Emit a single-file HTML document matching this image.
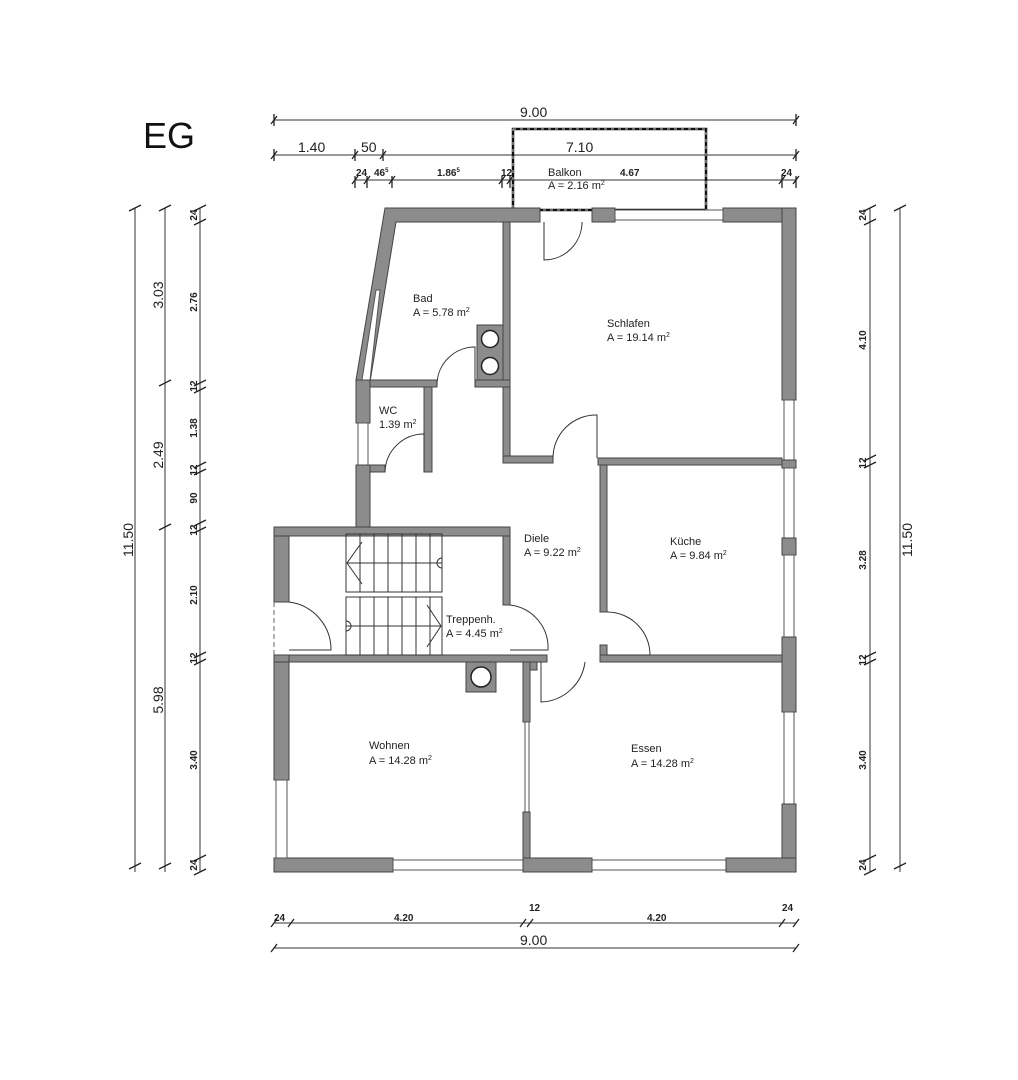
<!DOCTYPE html>
<html><head><meta charset="utf-8"><style>
html,body{margin:0;padding:0;background:#fff;}
svg{display:block;font-family:"Liberation Sans",sans-serif;}
.w{fill:#8c8c8c;stroke:#444;stroke-width:1}
.win{fill:#fff;stroke:#555;stroke-width:1}
.d{stroke:#333;stroke-width:1;fill:none}
.t{font-size:11px;fill:#222}
.dm{font-size:10px;font-weight:bold;fill:#222}
.big{font-size:14px;fill:#222}
</style></head><body>
<svg width="1018" height="1080" viewBox="0 0 1018 1080" xmlns="http://www.w3.org/2000/svg">
<text x="143" y="148" font-size="36" fill="#111">EG</text>

<!-- top dimensions -->
<g class="d">
<line x1="274" y1="120" x2="796" y2="120"/>
<line x1="274" y1="155" x2="796" y2="155"/>
<line x1="355" y1="180" x2="796" y2="180"/>
</g>
<g stroke="#222" stroke-width="1.3">
<path d="M271,124 l6,-8 M274,114v12 M793,124 l6,-8 M796,114v12"/>
<path d="M271,159 l6,-8 M274,149v12 M352,159 l6,-8 M355,149v12 M380,159 l6,-8 M383,149v12 M793,159 l6,-8 M796,149v12"/>
<path d="M352,184l6,-8 M355,176v12 M364,184l6,-8 M367,176v12 M389,184l6,-8 M392,176v12 M499,184l6,-8 M502,176v12 M507,184l6,-8 M510,176v12 M779,184l6,-8 M782,176v12 M793,184l6,-8 M796,176v12"/>
</g>
<text class="big" x="520" y="117">9.00</text>
<text class="big" x="298" y="152">1.40</text>
<text class="big" x="361" y="152">50</text>
<text class="big" x="566" y="152">7.10</text>
<text class="dm" x="356" y="176">24</text>
<text class="dm" x="374" y="176">46<tspan font-size="6" dy="-4">5</tspan></text>
<text class="dm" x="437" y="176">1.86<tspan font-size="6" dy="-4">5</tspan></text>
<text class="dm" x="501" y="176">12</text>
<text class="dm" x="620" y="176">4.67</text>
<text class="dm" x="781" y="176">24</text>
<text class="t" x="548" y="176">Balkon</text>
<text class="t" x="548" y="189">A =  2.16 m<tspan font-size="7" dy="-4">2</tspan></text>
<rect x="513" y="129" width="193" height="81" fill="none" stroke="#111" stroke-width="2.5"/>
<rect x="513" y="129" width="193" height="81" fill="none" stroke="#fff" stroke-width="0.8" stroke-dasharray="3 4"/>

<!-- exterior walls -->
<polygon class="w" points="385,208 540,208 540,222 396,222 370,382 356,380"/>
<rect class="w" x="592" y="208" width="23" height="14"/>
<rect class="w" x="723" y="208" width="73" height="14"/>
<rect class="win" x="615" y="210" width="108" height="10"/>
<rect class="w" x="782" y="208" width="14" height="192"/>
<rect class="win" x="784" y="400" width="10" height="60"/>
<rect class="w" x="782" y="460" width="14" height="8"/>
<rect class="win" x="784" y="468" width="10" height="70"/>
<rect class="w" x="782" y="538" width="14" height="17"/>
<rect class="win" x="784" y="555" width="10" height="82"/>
<rect class="w" x="782" y="637" width="14" height="75"/>
<rect class="win" x="784" y="712" width="10" height="92"/>
<rect class="w" x="782" y="804" width="14" height="68"/>
<rect class="w" x="274" y="858" width="119" height="14"/>
<rect class="win" x="393" y="860" width="130" height="10"/>
<rect class="w" x="523" y="858" width="69" height="14"/>
<rect class="win" x="592" y="860" width="134" height="10"/>
<rect class="w" x="726" y="858" width="70" height="14"/>
<rect class="w" x="274" y="662" width="15" height="118"/>
<rect class="win" x="276" y="780" width="11" height="78"/>
<rect class="w" x="274" y="527" width="15" height="75"/>
<line x1="274" y1="602" x2="274" y2="655" stroke="#666" stroke-dasharray="5 3"/>
<rect class="w" x="274" y="655" width="15" height="7"/>
<!-- bad slanted window -->
<polygon class="win" points="376,290 380,290 370,380 362,380"/>
<!-- WC left wall -->
<rect class="w" x="356" y="380" width="14" height="43"/>
<rect class="win" x="358" y="423" width="10" height="42"/>
<rect class="w" x="356" y="465" width="14" height="62"/>
<rect class="w" x="274" y="527" width="236" height="9"/>

<!-- interior walls -->
<rect class="w" x="503" y="222" width="7" height="241"/>
<rect class="w" x="503" y="456" width="50" height="7"/>
<rect class="w" x="598" y="458" width="184" height="7"/>
<rect class="w" x="600" y="465" width="7" height="147"/>
<rect class="w" x="600" y="645" width="7" height="17"/>
<rect class="w" x="600" y="655" width="182" height="7"/>
<rect class="w" x="370" y="380" width="67" height="7"/>
<rect class="w" x="475" y="380" width="35" height="7"/>
<rect class="w" x="477" y="325" width="26" height="55" fill="#8c8c8c"/>
<circle cx="490" cy="339" r="8.5" fill="#fff" stroke="#222" stroke-width="1.5"/>
<circle cx="490" cy="366" r="8.5" fill="#fff" stroke="#222" stroke-width="1.5"/>
<rect class="w" x="424" y="387" width="8" height="85"/>
<rect class="w" x="370" y="465" width="15" height="7"/>
<rect class="w" x="503" y="536" width="7" height="69"/>
<rect class="w" x="289" y="655" width="258" height="7"/>
<rect class="w" x="466" y="662" width="30" height="30"/>
<circle cx="481" cy="677" r="10" fill="#fff" stroke="#222" stroke-width="1.5"/>
<rect class="w" x="523" y="662" width="7" height="60"/>
<rect class="win" x="525" y="722" width="4" height="90"/>
<rect class="w" x="523" y="812" width="7" height="46"/>
<rect class="w" x="530" y="662" width="7" height="8"/>

<!-- doors -->
<g class="d">
<path d="M544,222 V260 A38,38 0 0 0 582,222"/>
<path d="M475,387 v-40 A38,38 0 0 0 437,385"/>
<path d="M424,472 v-38 A39,39 0 0 0 385,472"/>
<path d="M597,458 v-43 A43,43 0 0 0 553,458"/>
<path d="M607,612 A43,43 0 0 1 650,655 h-43"/>
<path d="M510,605 A43,43 0 0 1 548,650 h-38"/>
<path d="M289,602 A48,48 0 0 1 331,650 h-42"/>
<path d="M541,662 v40 A46,46 0 0 0 585,662"/>
</g>

<!-- stairs -->
<g stroke="#333" stroke-width="1" fill="none">
<rect x="346" y="534" width="96" height="58"/>
<rect x="346" y="597" width="96" height="58"/>
<path d="M360,534v58M374,534v58M388,534v58M402,534v58M416,534v58M430,534v58"/>
<path d="M360,597v58M374,597v58M388,597v58M402,597v58M416,597v58M430,597v58"/>
<line x1="347" y1="563" x2="442" y2="563"/><path d="M362,542 L347,563 L362,584"/>
<path d="M442,558 a5,5 0 0 0 0,10"/>
<line x1="346" y1="626" x2="441" y2="626"/><path d="M427,605 L441,626 L427,647"/>
<path d="M346,621 a5,5 0 0 1 0,10"/>
</g>

<!-- room labels -->
<text class="t" x="413" y="302">Bad</text><text class="t" x="413" y="316">A =  5.78 m<tspan font-size="7" dy="-4">2</tspan></text>
<text class="t" x="607" y="327">Schlafen</text><text class="t" x="607" y="341">A =  19.14 m<tspan font-size="7" dy="-4">2</tspan></text>
<text class="t" x="379" y="414">WC</text><text class="t" x="379" y="428">1.39 m<tspan font-size="7" dy="-4">2</tspan></text>
<text class="t" x="524" y="542">Diele</text><text class="t" x="524" y="556">A =  9.22 m<tspan font-size="7" dy="-4">2</tspan></text>
<text class="t" x="670" y="545">Küche</text><text class="t" x="670" y="559">A =  9.84 m<tspan font-size="7" dy="-4">2</tspan></text>
<text class="t" x="446" y="623">Treppenh.</text><text class="t" x="446" y="637">A =  4.45 m<tspan font-size="7" dy="-4">2</tspan></text>
<text class="t" x="369" y="749">Wohnen</text><text class="t" x="369" y="764">A =  14.28 m<tspan font-size="7" dy="-4">2</tspan></text>
<text class="t" x="631" y="752">Essen</text><text class="t" x="631" y="767">A =  14.28 m<tspan font-size="7" dy="-4">2</tspan></text>

<!-- left dims -->
<g class="d"><line x1="135" y1="208" x2="135" y2="872"/><line x1="165" y1="208" x2="165" y2="872"/><line x1="200" y1="208" x2="200" y2="872"/></g>
<g stroke="#222" stroke-width="1.3">
<path d="M129,211l12,-6M129,869l12,-6M159,211l12,-6M159,386l12,-6M159,530l12,-6M159,869l12,-6"/>
<path d="M194,211l12,-6M194,225l12,-6M194,386l12,-6M194,393l12,-6M194,468l12,-6M194,475l12,-6M194,526l12,-6M194,533l12,-6M194,658l12,-6M194,665l12,-6M194,861l12,-6M194,875l12,-6"/>
</g>
<g class="big"><text transform="translate(133,540) rotate(-90)" text-anchor="middle">11.50</text>
<text transform="translate(163,295) rotate(-90)" text-anchor="middle">3.03</text>
<text transform="translate(163,455) rotate(-90)" text-anchor="middle">2.49</text>
<text transform="translate(163,700) rotate(-90)" text-anchor="middle">5.98</text></g>
<g class="dm">
<text transform="translate(197,215) rotate(-90)" text-anchor="middle">24</text>
<text transform="translate(197,302) rotate(-90)" text-anchor="middle">2.76</text>
<text transform="translate(197,386) rotate(-90)" text-anchor="middle">12</text>
<text transform="translate(197,428) rotate(-90)" text-anchor="middle">1.38</text>
<text transform="translate(197,470) rotate(-90)" text-anchor="middle">12</text>
<text transform="translate(197,498) rotate(-90)" text-anchor="middle">90</text>
<text transform="translate(197,530) rotate(-90)" text-anchor="middle">12</text>
<text transform="translate(197,595) rotate(-90)" text-anchor="middle">2.10</text>
<text transform="translate(197,658) rotate(-90)" text-anchor="middle">12</text>
<text transform="translate(197,760) rotate(-90)" text-anchor="middle">3.40</text>
<text transform="translate(197,865) rotate(-90)" text-anchor="middle">24</text>
</g>

<!-- right dims -->
<g class="d"><line x1="870" y1="208" x2="870" y2="872"/><line x1="900" y1="208" x2="900" y2="872"/></g>
<g stroke="#222" stroke-width="1.3">
<path d="M894,211l12,-6M894,869l12,-6"/>
<path d="M864,211l12,-6M864,225l12,-6M864,461l12,-6M864,468l12,-6M864,658l12,-6M864,665l12,-6M864,861l12,-6M864,875l12,-6"/>
</g>
<text class="big" transform="translate(912,540) rotate(-90)" text-anchor="middle">11.50</text>
<g class="dm">
<text transform="translate(866,215) rotate(-90)" text-anchor="middle">24</text>
<text transform="translate(866,340) rotate(-90)" text-anchor="middle">4.10</text>
<text transform="translate(866,463) rotate(-90)" text-anchor="middle">12</text>
<text transform="translate(866,560) rotate(-90)" text-anchor="middle">3.28</text>
<text transform="translate(866,660) rotate(-90)" text-anchor="middle">12</text>
<text transform="translate(866,760) rotate(-90)" text-anchor="middle">3.40</text>
<text transform="translate(866,865) rotate(-90)" text-anchor="middle">24</text>
</g>

<!-- bottom dims -->
<g class="d"><line x1="274" y1="923" x2="796" y2="923"/><line x1="274" y1="948" x2="796" y2="948"/></g>
<g stroke="#222" stroke-width="1.3">
<path d="M271,927l6,-8M288,927l6,-8M520,927l6,-8M527,927l6,-8M779,927l6,-8M793,927l6,-8M271,952l6,-8M793,952l6,-8"/>
</g>
<text class="dm" x="274" y="921">24</text>
<text class="dm" x="394" y="921">4.20</text>
<text class="dm" x="529" y="911">12</text>
<text class="dm" x="647" y="921">4.20</text>
<text class="dm" x="782" y="911">24</text>
<text class="big" x="520" y="945">9.00</text>
</svg>
</body></html>
